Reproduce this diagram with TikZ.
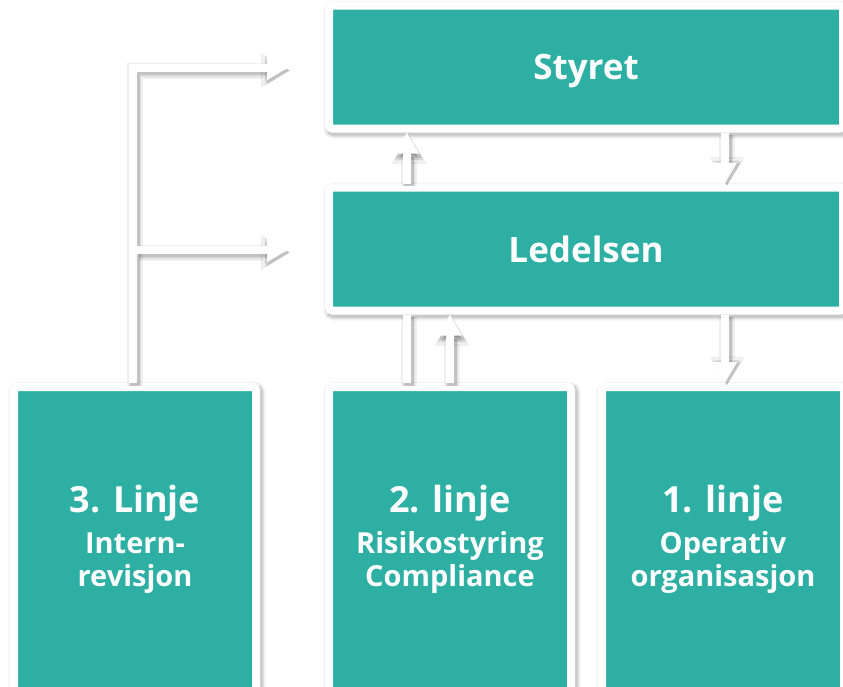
\documentclass[tikz,border=0pt]{standalone}
\usepackage{fontspec}
\newfontfamily\orgfont{Open Sans}
\usetikzlibrary{arrows.meta, calc}
\definecolor{orgteal}{HTML}{2DAFA3}

% white arrow with a soft grey shade under it
\newcommand\orgarrow[1]{%
  \draw[black, opacity=0.06, line width=16pt, -{Triangle[width=33pt, length=29pt]},
        transform canvas={shift={(2pt,-2.5pt)}}] #1;
  \draw[black, opacity=0.08, line width=12pt, -{Triangle[width=28pt, length=25pt]},
        transform canvas={shift={(2pt,-2.5pt)}}] #1;
  \draw[black, opacity=0.12, line width=9.5pt, -{Triangle[width=25pt, length=23pt]},
        transform canvas={shift={(2pt,-2.5pt)}}] #1;
  \draw[conn, tip] #1;}

\begin{document}
\begin{tikzpicture}[
    x=1pt, y=-1pt,
    % soft grey shade under a white stroke
    shade/.style 2 args={preaction={draw=black, opacity=#1, line width=#2,
        transform canvas={shift={(2pt,-2.5pt)}}}},
    orgbox/.style={
        rectangle, rounded corners=3pt, fill=orgteal, draw=white, line width=8pt,
        text=white, align=center, inner sep=0pt,
        font=\orgfont\bfseries\fontsize{29}{33}\selectfont,
        shade={0.05}{15pt}, shade={0.07}{12pt}, shade={0.10}{9pt},
    },
    topbox/.style={orgbox, minimum width=514pt, minimum height=123pt,
        text depth=0pt, font=\orgfont\bfseries\fontsize{35}{40}\selectfont},
    linebox/.style={orgbox, minimum width=242pt, minimum height=304pt},
    conn/.style={draw=white, line width=8pt},
    tip/.style={-{Triangle[width=23pt,length=21pt]}},
]
\useasboundingbox (0,0) rectangle (843,686);
\clip (0,0) rectangle (843,686);
\fill[white] (0,0) rectangle (843,686);

% board and management
\node[topbox] (styret)   at (586,67)  {Styret};
\node[topbox] (ledelsen) at (586,249) {Ledelsen};

% the three lines
\node[linebox] (internrev) at (135,539)
    {{\fontsize{36}{40}\selectfont 3. Linje}\\[8pt] Intern-\\ revisjon};
\node[linebox] (risiko) at (450,539)
    {{\fontsize{36}{40}\selectfont 2. linje}\\[8pt] Risikostyring\\ Compliance};
\node[linebox] (operativ) at (723,539)
    {{\fontsize{36}{40}\selectfont 1. linje}\\[8pt] Operativ\\ organisasjon};

% internal audit reports to both
\coordinate (boardin) at ($(styret.west)+(-37,1)$);
\coordinate (mgmtin)  at ($(ledelsen.west)+(-37,1)$);
\orgarrow{([xshift=-2pt]internrev.north) |- (boardin)}
\orgarrow{([xshift=2pt]internrev.north |- mgmtin) -- (mgmtin)}

% between board and management
\orgarrow{([xshift=82pt]ledelsen.north west) -- ([xshift=82pt]styret.south west)}
\orgarrow{([xshift=-122pt]styret.south east) -- ([xshift=-122pt]ledelsen.north east)}

% second and first line
\draw[conn, shade={0.06}{16pt}, shade={0.08}{12pt}, shade={0.12}{9.5pt}]
    ([xshift=82pt]risiko.north west) -- ([xshift=82pt]ledelsen.south west);
\orgarrow{(risiko.north) -- (risiko.north |- ledelsen.south)}
\orgarrow{([xshift=-122pt]ledelsen.south east)
    -- ([xshift=-122pt]ledelsen.south east |- operativ.north)}

\end{tikzpicture}
\end{document}
